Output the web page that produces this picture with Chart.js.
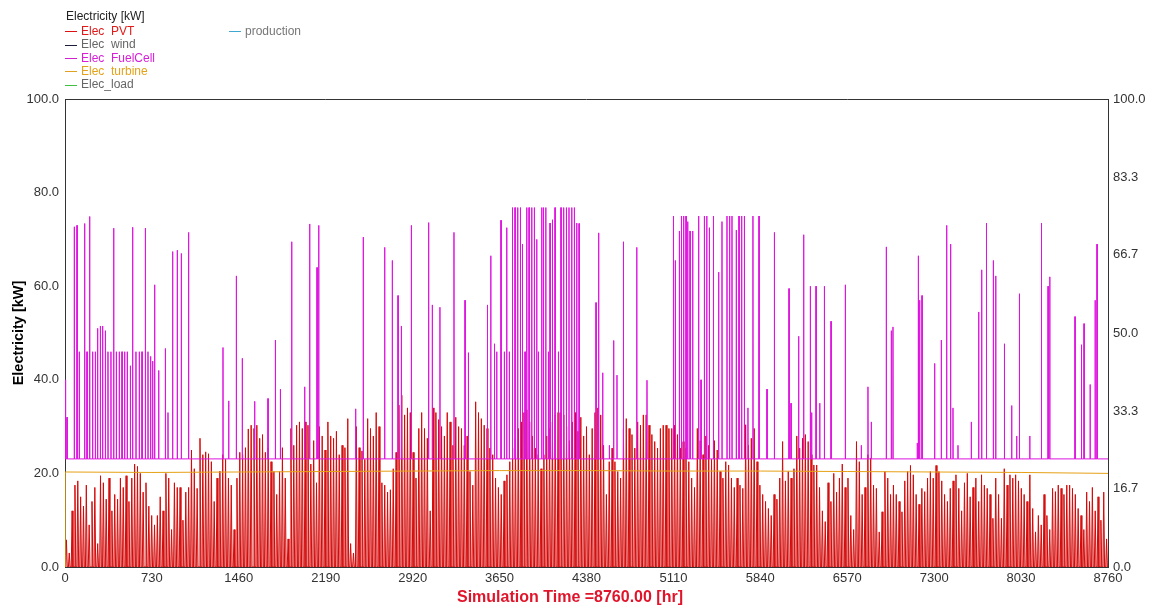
<!DOCTYPE html>
<html>
<head>
<meta charset="utf-8">
<script src="https://cdn.jsdelivr.net/npm/chart.js@4.4.1/dist/chart.umd.min.js"></script>
<style>
  html, body { margin: 0; padding: 0; background: #fff; }
  #wrap { position: relative; width: 1152px; height: 610px; }
  #chart { position: absolute; left: 0; top: 0; }
  .lg { position: absolute; font: 12px "Liberation Sans", Arial, sans-serif; white-space: pre; line-height: 13.3px; }
  .lg span.dash { display: inline-block; width: 12px; height: 1px; vertical-align: middle; margin-right: 4px; }
  #xtitle { position: absolute; top: 588px; left: 457px; font: bold 16px "Liberation Sans", Arial, sans-serif; color: #e0142a; white-space: pre; }
</style>
</head>
<body>
<div id="wrap">
  <canvas id="chart" width="1152" height="610"></canvas>
  <div class="lg" style="left:66px; top:10px; color:#222;">Electricity [kW]</div>
  <div id="legend1" class="lg" style="left:65px; top:25px;"></div>
  <div id="legend2" class="lg" style="left:229px; top:25px;"></div>
  <div id="xtitle">Simulation Time =8760.00 [hr]</div>
</div>
<script>
// x axis: hours of the year, ticks every 730 h
const xTickStep = 730;
const hoursInYear = 8760;

// Elec PVT: daily peak output [kW], one value per day
const pvtPeaks = [
  5.8, 3, 12, 17.5, 18.4, 15, 13, 17.5, 9, 14, 17, 5, 19.5, 18, 14.5, 19, 12, 15.5, 14.5, 19, 17,
  19.5, 14, 19, 22, 21.5, 20, 16, 18, 13, 11, 9, 11, 15, 12, 20, 19, 8, 18, 17, 17, 10, 16, 17, 25, 21,
  16.8, 27.5, 24, 24.6, 24.2, 22.5, 14, 19, 20.5, 24, 23, 19, 17.5, 8, 19, 24.5, 24, 25.5, 29.5, 30.3,
  29.6, 30.3, 27.5, 28.3, 24.5, 25.4, 22.5, 20.4, 15.5, 20.4, 25.5, 19, 6, 29.6, 26, 30.3, 31, 29.6, 31,
  30.3, 22, 27, 18, 30, 28, 25,
  31, 28, 27.5, 29, 24, 26, 25.5, 31.7, 5, 3, 30, 25.5, 24.8, 23, 31.7, 29.6, 28, 33, 30, 18, 17.5, 16,
  16.5, 21, 24.5, 34.6, 36.7, 32.5, 34, 33, 24.5, 19, 29.6, 33, 29.6, 27.5, 12, 34, 33, 31.5, 30, 28, 33,
  31, 26, 32,
  30, 29.6, 26, 28, 20.4, 17.5, 35.3, 33, 31.7, 30.3, 29.6, 25.4, 24, 19, 17, 15.5, 18.4, 19.7, 22.5,
  25.4, 27.5, 29.6, 31, 33, 33.6, 31, 28, 25.4, 24, 21, 24, 28, 29.6, 31, 32.5, 33, 33, 32.5, 30, 27, 31,
  33, 29, 32, 28, 30,
  24, 29.6, 33, 34, 32.5, 26, 15.5, 22.5, 25.4, 22.5, 20.4, 19, 29.6, 31.7, 29.6, 28.3, 25.4, 31, 30.3,
  32.5, 32.5, 30.3, 28.3, 26.8, 25.4, 29.6, 30.3, 30.3, 29.6, 29.6, 30.3, 28.3, 25.4, 26.8, 25.4, 22.5,
  19, 17, 29.6, 27, 24, 28, 26, 23, 27, 25,
  20.4, 19, 22.5, 21.8, 19, 17, 19, 17.5, 16.8, 30.4, 26, 27.5, 29.6, 22.5, 17.5, 15.5, 14, 12.5, 11,
  15.5, 14.5, 19, 26.8, 18.4, 20.4, 19, 21, 28, 25.4, 27.5, 28.3, 26.8, 24, 21.8, 21.8, 17, 12, 9.7, 18,
  14, 20, 16, 19, 22, 17, 19,
  11, 8, 26.8, 22.5, 15.5, 17, 24, 23.3, 17.5, 16.8, 7.5, 11.8, 20.4, 19, 15.5, 17.5, 15.5, 14, 11.8,
  18.4, 20.4, 21.7, 19.7, 15.5, 13.4, 16.8, 16.1, 19, 20.4, 19, 21.7, 20.4, 18.4, 15.5, 14, 16.8, 18.4,
  19.7, 16.8, 12, 18, 20, 15, 17, 19, 14,
  19.7, 17.5, 16.8, 15.5, 10.4, 19, 15.5, 10.4, 21, 17.5, 19.7, 19, 19.7, 18.4, 16.8, 15.5, 14, 19.7,
  12.5, 7.5, 11, 9, 15.5, 11, 8, 16.8, 16.1, 17.5, 16.8, 15.5, 17.5, 17.5, 16.8, 15.5, 12.5, 11, 8, 16,
  14, 17, 12, 15, 10, 16, 6
];

// Elec FuelCell: idle level and the hours / heights of its peaks
const fcBase = 23.1;
const fcHours = [
  5, 17, 78, 101, 120, 165, 185, 207, 232, 255, 274, 297, 316, 339, 361, 386, 409, 431, 456, 479,
  501, 523, 549, 568, 596, 624, 647, 675, 697, 719, 736, 753, 787, 843, 865, 904, 943, 977, 1038,
  1327, 1375, 1439, 1489, 1593, 1705, 1767, 1809, 1904, 2013, 2055, 2117, 2131,
  2441, 2505, 2685, 2749, 2797, 2825, 2909, 3054, 3085, 3149, 3267,
  3360, 3388, 3548, 3576, 3607, 3626, 3662, 3690, 3710, 3732, 3758, 3780, 3802, 3825, 3842, 3864,
  3878, 3898, 3920, 3942, 3962, 3976, 4004, 4018, 4038, 4060, 4074, 4094, 4116, 4144, 4166, 4188,
  4211, 4233, 4256, 4278, 4298, 4318,
  4460, 4482, 4516, 4572, 4608, 4636, 4690, 4802, 4888, 5110, 5126, 5160, 5177, 5196, 5216, 5230,
  5250, 5272, 5322, 5342, 5370, 5390, 5412, 5446,
  5490, 5518, 5560, 5582, 5602, 5638, 5661, 5683, 5706, 5736, 5778, 5829, 5896, 5958, 6081, 6098,
  6162, 6204, 6260, 6271, 6308, 6339, 6378, 6434, 6554,
  6688, 6744, 6772, 6898, 6940, 6954, 7158, 7167, 7178, 7198, 7304, 7360, 7405, 7438, 7458, 7500,
  7612, 7674,
  7699, 7739, 7797, 7817, 7890, 7951, 7993, 8016, 8103, 8201, 8257, 8271, 8483, 8537, 8559, 8610,
  8652, 8668
];
const fcPeaks = [
  40, 32, 72.7, 73, 46, 73.4, 46, 74.9, 46, 46, 51, 51.5, 51.5, 50.5, 46, 46, 72.4, 46, 46, 46,
  46, 46, 43, 72.6, 46, 46, 46, 72.4, 46, 45, 44, 60.3, 42, 46.7, 33, 67.4, 67.7, 67, 71.5,
  46.9, 35.5, 62.2, 44.6, 35.4, 36, 48.5, 38, 69.5, 38.5, 73.3, 64, 73,
  33.8, 70.5, 68.3, 65.5, 58, 51.5, 73, 73.6, 56, 55.5, 71.5,
  57, 45.8, 56, 66.5, 47.7, 46, 74.1, 46, 72.5, 46, 76.8, 76.8, 76.8, 76.8, 69, 46,
  76.8, 76.8, 76.8, 76.8, 70, 46, 76.8, 76.8, 76.8, 46, 73.5, 74.2, 76.8, 46, 76.8, 76.8,
  76.8, 76.8, 76.8, 76.8, 73.5, 73.4,
  56.5, 71.4, 41.5, 26, 48.4, 41, 69.5, 68.3, 39.9, 75, 65.5, 71.8, 75, 75, 75, 73.8,
  71.8, 71.8, 75, 40, 75, 75, 72.5, 75,
  63, 73.8, 75, 75, 75, 72, 75, 75, 75, 34, 75, 75, 38, 71.5, 59.5, 35,
  49.3, 71, 60, 33, 60, 35, 60, 52.5, 60.3,
  26, 38.5, 31, 68.4, 50.5, 51.3, 26.5, 66.5, 57, 58, 43.5, 48.5, 73, 69, 34, 26,
  31, 54.5,
  63.5, 73.5, 65.5, 62.2, 47.7, 34.5, 28, 58.4, 28, 73.5, 60, 62, 53.5, 47.5, 52, 39,
  57, 69
];

// Elec turbine: slowly varying output [kW]
const turbineHours = [0, 2, 730, 1460, 2190, 2920, 3650, 4380, 5110, 5840, 6570, 7300, 8030, 8760];
const turbineValues = [0, 20.3, 20.2, 20.3, 20.4, 20.5, 20.6, 20.6, 20.5, 20.5, 20.4, 20.3, 20.2, 20.0];

// right axis ticks
const rightTicks = [0, 16.7, 33.3, 50.0, 66.7, 83.3, 100.0];

// legend entries (two columns)
const legendCol1 = [
  { text: 'Elec  PVT', line: '#e01010', color: '#e01a1a' },
  { text: 'Elec  wind', line: '#1c1c3c', color: '#666' },
  { text: 'Elec  FuelCell', line: '#d020d0', color: '#d81ed8' },
  { text: 'Elec  turbine', line: '#e0a020', color: '#e3a21a' },
  { text: 'Elec_load', line: '#40c040', color: '#666' }
];
const legendCol2 = [
  { text: 'production', line: '#40a8d0', color: '#777' }
];

function fillLegend(el, items) {
  el.innerHTML = items.map(it =>
    '<div><span class="dash" style="background:' + it.line + '"></span>' +
    '<span style="color:' + it.color + '">' + it.text + '</span></div>').join('');
}
fillLegend(document.getElementById('legend1'), legendCol1);
fillLegend(document.getElementById('legend2'), legendCol2);

// PVT is zero at night, peak around noon
const dayLen = hoursInYear / pvtPeaks.length;
const pvtData = [];
pvtPeaks.forEach((p, i) => {
  const start = i * dayLen;
  pvtData.push({ x: start + 0.2 * dayLen, y: 0 }, { x: start + 0.5 * dayLen, y: p }, { x: start + 0.8 * dayLen, y: 0 });
});

// fuel cell sits at its idle level between peaks
const fcData = [{ x: 0, y: fcBase }];
fcHours.forEach((h, i) => {
  fcData.push({ x: h - 1, y: fcBase }, { x: h, y: fcPeaks[i] }, { x: h + 1, y: fcBase });
});
fcData.push({ x: hoursInYear, y: fcBase });

const turbineData = turbineHours.map((h, i) => ({ x: h, y: turbineValues[i] }));

// top edge of the plot frame
const frame = {
  id: 'frame',
  afterDatasetsDraw(chart) {
    const { ctx, chartArea: a } = chart;
    ctx.save();
    ctx.strokeStyle = '#333';
    ctx.lineWidth = 1;
    ctx.beginPath();
    ctx.moveTo(a.left, a.top + 0.5);
    ctx.lineTo(a.right, a.top + 0.5);
    ctx.stroke();
    ctx.restore();
  }
};

const tickFont = { family: '"Liberation Sans", Arial, sans-serif', size: 13 };

new Chart(document.getElementById('chart'), {
  type: 'line',
  data: {
    datasets: [
      { label: 'Elec PVT', data: pvtData, borderColor: 'rgb(212,10,10)', borderWidth: 1,
        fill: 'origin', backgroundColor: 'rgba(232,120,120,0.55)', order: 5 },
      { label: 'Elec FuelCell', data: fcData, borderColor: 'rgb(222,20,222)', borderWidth: 1, order: 3 },
      { label: 'Elec turbine', data: turbineData, borderColor: 'rgb(230,160,20)', borderWidth: 1, order: 2 }
    ]
  },
  options: {
    responsive: false,
    animation: false,
    parsing: false,
    normalized: true,
    elements: { point: { radius: 0 }, line: { tension: 0 } },
    layout: { padding: { top: 99, left: 0, right: 0, bottom: 0 } },
    plugins: { legend: { display: false }, tooltip: { enabled: false } },
    scales: {
      x: {
        type: 'linear',
        min: 0,
        max: hoursInYear,
        grid: { display: false, drawTicks: false },
        border: { display: true, color: '#333' },
        ticks: { stepSize: xTickStep, font: tickFont, color: '#333', padding: 4, maxRotation: 0,
                 callback: v => String(v) },
        afterFit(s) { s.height = 43; }
      },
      y: {
        position: 'left',
        min: 0,
        max: 100,
        grid: { display: false, drawTicks: false },
        border: { display: true, color: '#333' },
        ticks: { stepSize: 20, font: tickFont, color: '#333', padding: 6, callback: v => v.toFixed(1) },
        title: {
          display: true,
          text: 'Electricity [kW]',
          color: '#000',
          font: { family: '"Liberation Sans", Arial, sans-serif', size: 14.5, weight: 'bold' },
          padding: { top: 10, bottom: 0 }
        },
        afterFit(s) { s.width = 65; }
      },
      y2: {
        position: 'right',
        min: 0,
        max: 100,
        grid: { display: false, drawTicks: false },
        border: { display: true, color: '#333' },
        afterBuildTicks(s) { s.ticks = rightTicks.map(v => ({ value: v })); },
        ticks: { font: tickFont, color: '#333', padding: 5, callback: v => v.toFixed(1) },
        afterFit(s) { s.width = 44; }
      }
    }
  },
  plugins: [frame]
});
</script>
</body>
</html>
